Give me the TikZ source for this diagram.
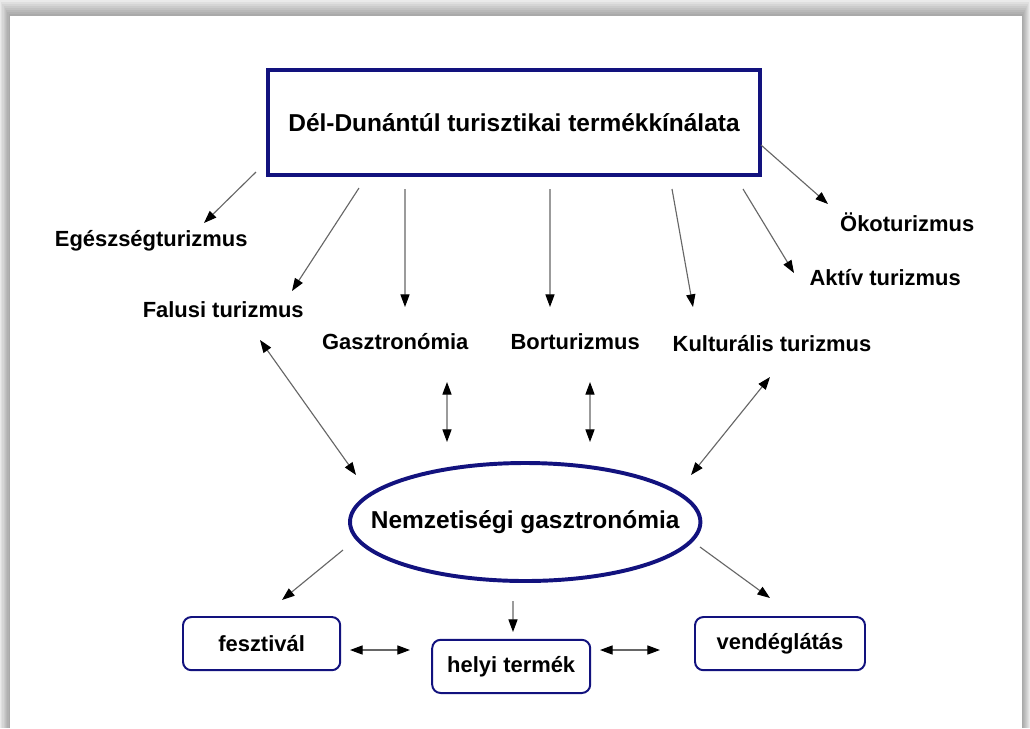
\documentclass[tikz,border=0pt]{standalone}
\usepackage{fontspec}
\setmainfont{Liberation Sans}
\definecolor{ddNavy}{HTML}{12127E}
\definecolor{ddLine}{HTML}{666666}
\usetikzlibrary{calc,positioning,arrows.meta,shapes.geometric}
\newcommand{\bigfont}{\fontsize{17.4}{21}\selectfont\bfseries}
\newcommand{\lblfont}{\fontsize{15.6}{19}\selectfont\bfseries}

\begin{document}
\begin{tikzpicture}[
  offer/.style={draw=ddNavy, line width=2.8pt, outer sep=0pt,
    minimum width=12.3cm, minimum height=2.63cm, font=\bigfont},
  hub/.style={ellipse, draw=ddNavy, line width=2.8pt, outer sep=0pt,
    inner xsep=-0.76cm, inner ysep=0pt,
    minimum width=8.75cm, minimum height=2.95cm, font=\bigfont},
  prod/.style={draw=ddNavy, rounded corners=6pt, line width=1.4pt, outer sep=0pt,
    minimum height=1.33cm, font=\lblfont},
  lbl/.style={font=\lblfont, inner sep=0pt},
  arr/.style={-{Triangle[length=9pt,width=6.5pt,color=black]}, draw=ddLine, line width=0.8pt},
  darr/.style={{Triangle[length=9pt,width=6.5pt,color=black]}-{Triangle[length=9pt,width=6.5pt,color=black]},
    draw=ddLine, line width=0.8pt}
]
  \useasboundingbox (0,0) rectangle (25.75,-18.2);
  \fill[gray!8] (0,0) rectangle (25.75,-18.2);
  \foreach \k in {0,...,7}
    \fill[black, opacity=0.045] (0.031*\k,-0.05*\k) rectangle (25.75-0.025*\k,-18.2);
  \fill[white] (0.25,-0.4) rectangle (25.55,-18.2);

  \node[offer] (top) at (12.85,-3.06) {Dél-Dunántúl turisztikai termékkínálata};

  \node[lbl] (ego) at (3.78,-6.03) {Egészségturizmus};
  \node[lbl] (falu) at (5.58,-7.73) {Falusi turizmus};
  \node[lbl] (gaszt) at (9.88,-8.53) {Gasztronómia};
  \node[lbl] (bor) at (14.38,-8.53) {Borturizmus};
  \node[lbl] (kult) at (19.30,-8.58) {Kulturális turizmus};
  \node[lbl] (oko) at (22.68,-5.55) {Ökoturizmus};
  \node[lbl] (aktiv) at (22.13,-6.93) {Aktív turizmus};

  \node[hub] (ell) at (13.13,-13.05) {Nemzetiségi gasztronómia};

  \node[prod, minimum width=3.93cm] (fesz) at (6.54,-16.09) {fesztivál};
  \node[prod, minimum width=3.95cm] (helyi) at (12.78,-16.66) {helyi termék};
  \node[prod, minimum width=4.25cm] (vend) at (19.50,-16.09) {vendéglátás};

  \draw[arr] ([shift={(-0.3,0.075)}]top.south west) -- ([shift={(1.32,0.455)}]ego.center);
  \draw[arr] ([shift={(2.275,-0.325)}]top.south west) -- ([shift={(1.72,0.455)}]falu.center);
  \draw[arr] ([shift={(-2.725,-0.35)}]top.south) -- ([shift={(0.245,0.855)}]gaszt.center);
  \draw[arr] ([shift={(0.9,-0.35)}]top.south) -- ([shift={(-0.63,0.855)}]bor.center);
  \draw[arr] ([shift={(-2.2,-0.35)}]top.south east) -- ([shift={(-1.975,0.905)}]kult.center);
  \draw[arr] ([shift={(-0.425,-0.35)}]top.south east) -- ([shift={(-2.28,0.105)}]aktiv.center);
  \draw[arr] ([shift={(0.025,-0.565)}]top.east) -- ([shift={(-1.98,0.45)}]oko.center);

  \draw[darr] ([shift={(0.92,-0.77)}]falu.center) -- ([shift={(-4.23,1.175)}]ell.center);
  \draw[darr] ([shift={(1.295,-1.02)}]gaszt.center) -- ([shift={(-1.955,2.0)}]ell.center);
  \draw[darr] ([shift={(0.37,-1.02)}]bor.center) -- ([shift={(1.62,2.0)}]ell.center);
  \draw[darr] ([shift={(-0.05,-0.845)}]kult.center) -- ([shift={(4.145,1.175)}]ell.center);

  \draw[arr] ([shift={(-4.555,-0.70)}]ell.center) -- ([shift={(0.51,1.09)}]fesz.center);
  \draw[arr] ([shift={(-0.305,-1.975)}]ell.center) -- ([shift={(0.045,0.86)}]helyi.center);
  \draw[arr] ([shift={(4.37,-0.625)}]ell.center) -- ([shift={(-0.25,1.14)}]vend.center);
  \draw[darr] ([shift={(0.245,-0.16)}]fesz.east) -- ([shift={(-0.555,0.41)}]helyi.west);
  \draw[darr] ([shift={(0.245,0.41)}]helyi.east) -- ([shift={(-0.875,-0.16)}]vend.west);
\end{tikzpicture}
\end{document}
